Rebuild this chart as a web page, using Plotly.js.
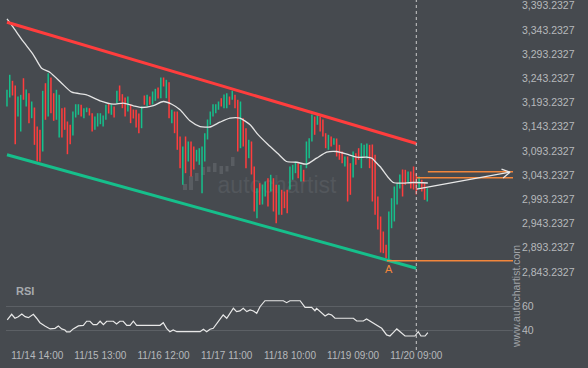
<!DOCTYPE html>
<html><head><meta charset="utf-8">
<script src="https://cdn.plot.ly/plotly-3.0.1.min.js"></script>
<style>html,body{margin:0;padding:0;background:#464a4f;}#chart{width:588px;height:368px;}</style>
</head><body><div id="chart"></div>
<script>
// ---- data ----
const highs = [3219.7,3250.7,3238.3,3228.6,3205.8,3209.3,3243.6,3220.3,3212.6,3195.5,
3183.1,3143.8,3137.0,3217.6,3233.3,3254.0,3245.1,3212.6,3219.7,3209.3,
3181.7,3183.1,3154.2,3147.4,3174.8,3189.9,3189.9,3188.7,3181.7,3183.1,
3181.7,3171.3,3164.5,3171.3,3171.3,3166.6,3188.7,3191.4,3189.9,3185.2,
3217.6,3228.6,3210.6,3203.8,3205.8,3189.9,3179.0,3178.4,3170.7,3185.2,
3207.9,3209.3,3205.8,3216.2,3221.7,3224.4,3245.1,3245.1,3240.3,3235.4,
3178.4,3174.8,3174.8,3123.2,3102.5,3123.2,3112.9,3112.9,3102.5,3095.7,
3099.0,3102.5,3130.0,3158.3,3174.8,3189.9,3189.9,3195.5,3202.3,3210.0,
3212.6,3205.8,3217.6,3209.3,3199.0,3195.5,3161.0,3140.3,3116.4,3112.9,
3061.2,3016.4,3026.7,3024.0,3030.2,3037.0,3044.1,3037.0,3023.4,3023.4,
3013.1,3009.6,3013.1,3061.2,3064.7,3071.5,3068.0,3064.7,3054.4,3112.9,
3119.7,3168.6,3164.5,3168.0,3164.5,3158.3,3130.0,3126.7,3123.2,3119.7,
3119.1,3106.0,3092.2,3081.9,3081.9,3068.0,3092.2,3088.7,3099.0,3109.3,
3106.0,3108.7,3106.0,3106.7,3085.4,2999.2,2957.9,2926.9,2899.4,2968.2,
2995.7,3019.9,3026.1,3044.7,3055.0,3054.4,3050.9,3050.9,3061.2,3046.7,
3040.5,3033.7,3026.7,3016.4];
const lows = [3185.2,3203.8,3207.9,3107.3,3164.5,3133.5,3199.0,3185.2,3150.7,3161.0,
3106.0,3071.5,3071.5,3092.2,3157.7,3164.5,3171.3,3155.6,3157.7,3121.1,
3121.1,3137.0,3086.6,3107.3,3125.3,3162.4,3168.0,3164.5,3161.0,3173.4,
3166.6,3133.5,3137.0,3143.8,3148.6,3143.8,3157.7,3170.7,3168.0,3162.4,
3192.0,3196.9,3181.7,3164.5,3174.8,3150.7,3160.4,3141.8,3130.0,3140.3,
3188.7,3185.2,3188.7,3189.3,3196.9,3201.7,3202.3,3226.5,3202.3,3161.0,
3150.7,3130.0,3095.7,3057.7,3023.4,3047.4,3071.5,3040.5,3055.0,3071.5,
3064.7,3006.0,3071.5,3117.0,3147.4,3164.5,3171.3,3178.4,3185.2,3181.7,
3181.7,3188.7,3199.0,3181.7,3092.2,3099.0,3102.5,3057.7,3078.4,3044.7,
2968.2,2954.4,2982.1,2982.7,2999.2,2978.6,3009.6,2968.2,2944.1,2961.4,
2961.4,2975.1,2964.7,3013.7,3033.7,3047.4,3037.0,3030.2,3030.2,3057.7,
3078.4,3112.9,3126.7,3147.4,3133.5,3123.2,3099.0,3095.7,3102.5,3106.0,
3081.9,3075.1,3068.0,3061.2,2988.9,3002.7,3038.5,3064.7,3075.1,3057.7,
3081.9,3077.7,3057.7,2988.9,2961.4,2931.1,2883.5,2882.1,2871.8,2866.4,
2933.7,2947.6,2982.7,3015.8,2999.2,3023.4,3026.7,3015.8,3013.7,3003.4,
3015.8,3009.6,2992.4,2988.9];
const dirs = ("uudduududu"+"dddududduu"+"dddduuuduu"+"dduuuuudud"+"uddduddddu"+
"duduududud"+"udddududdu"+"uuuuuuuudu"+"ududduddud"+"duduududdu"+
"ddduuududu"+"uududddudu"+"dddudduddu"+"uudddddddu"+"uuuudduddd"+"uddu").split("");

const maIdx = [0,2.3,5.9,9.6,12.6,15.7,19.9,23.6,29.0,33.9,38.7,42.3,46.0,49.0,53.3,56.9,60.0,63.0,66.6,70.3,
73.9,77.5,81.2,84.8,88.5,91.4,95.0,98.6,101.8,105.5,109.1,112.7,116.4,120.0,123.7,127.3,130.9,132.8,134.6,135.8,
138.8,140.6,143.1,147.9,153.2];
const maVals = [3366.4,3348.4,3319.5,3292.0,3264.3,3255.4,3233.3,3214.7,3209.3,3196.9,3189.9,3192.0,3186.6,3183.1,3187.2,3195.5,3189.9,3178.4,3155.6,3143.8,
3142.8,3152.7,3161.0,3161.0,3147.4,3127.0,3106.6,3088.0,3071.5,3070.0,3066.0,3078.4,3090.8,3092.2,3086.6,3080.4,3080.4,3078.4,3068.0,3061.2,
3038.5,3028.1,3026.7,3028.1,3027.1];

const rsiIdx = [0.1,1.7,2.9,4.1,5.4,6.6,7.8,9.6,10.8,12.0,13.8,15.7,17.5,18.7,19.9,21.1,21.7,22.9,24.1,26.0,
27.8,29.0,30.2,31.4,32.7,33.9,35.1,36.3,38.7,39.9,41.1,42.3,43.6,44.8,46.0,47.2,55.7,56.9,58.1,59.3,
60.5,61.8,70.3,71.5,72.7,73.9,75.1,76.9,78.7,80.0,82.4,83.6,84.8,86.0,87.3,88.5,89.7,90.9,92.1,93.9,
100.6,101.8,103.0,106.7,108.5,110.9,112.1,112.7,113.9,115.8,117.0,118.2,119.4,126.1,127.3,129.7,130.9,132.1,134.6,136.4,
138.2,139.4,140.6,141.9,143.1,144.9,148.5,149.7,150.7,152.2,153.2];
const rsiVals = [48.8,53.5,50.2,51.5,53.8,51.5,50.7,53.5,50.2,46.5,43.8,41.3,41.8,43.8,41.3,40.4,38.8,38.8,41.3,43.8,
44.3,47.7,47.7,44.8,44.8,47.7,44.8,47.7,47.7,45.4,47.7,47.7,44.3,44.3,47.7,44.3,44.3,46.5,41.8,39.0,
40.4,39.0,39.0,41.0,39.0,41.0,41.8,47.3,52.9,50.2,58.5,55.7,56.3,58.5,55.7,57.1,56.3,54.3,59.8,64.8,
64.8,63.2,64.8,64.8,59.3,59.3,56.5,58.5,55.7,52.1,53.8,52.9,50.2,50.2,47.9,47.9,49.6,47.9,44.6,41.8,
36.3,35.4,38.2,41.3,39.0,35.4,35.4,39.0,35.4,35.4,38.3];

const channelIdx = [0, 149];
const upperChannel = [3359.3, 3108.7];
const lowerChannel = [3085.4, 2851.1];
const signalIdx = 149;
const supportLevel = 2866.4, supportStart = 138.3;
const targetLevels = [3050.2, 3037.9], targetStarts = [153.2, 149.1];
const arrowFrom = [149.1, 3014.3], arrowTo = [183.1, 3049.4];
const lowPointIdx = 139.2;

const tickIdx = [11, 34, 57, 80, 103, 126, 149];
const tickLabels = ['11/14 14:00','11/15 13:00','11/16 12:00','11/17 11:00','11/18 10:00','11/19 09:00','11/20 09:00'];
const priceTicks = [2843.2327,2893.2327,2943.2327,2993.2327,3043.2327,3093.2327,3143.2327,3193.2327,3243.2327,3293.2327,3343.2327,3393.2327];
const rsiTicks = [40, 60];

// ---- layout geometry ----
const W = 588, H = 368, L = 6, R = 75, T = 0, B = 20;
const plotW = W - L - R, plotH = H - T - B;
const xRange = [-0.36, 184.2];
const priceRange = [2826.7, 3405.2];
const rsiRange = [25.4, 77.9];
const priceDomain = [0.1954, 1], rsiDomain = [0, 0.181];
const px2x = p => (p - L) / plotW;
const py2y = p => (plotH + T - p) / plotH;

const BG = '#464a4f', RED = '#ff3d3d', GREEN = '#16bf8b', ORANGE = '#f2863c', TXT = '#b6b9bc';
const FONT = 'Arial, "Liberation Sans", sans-serif';

const idx = highs.map((_, i) => i);
function barTrace(dir, color) {
  const xs = [], base = [], len = [];
  idx.forEach(i => { if (dirs[i] === dir) { xs.push(i); base.push(lows[i]); len.push(highs[i] - lows[i]); } });
  return {type: 'bar', x: xs, y: len, base: base, width: 0.55, marker: {color: color, line: {width: 0}},
          xaxis: 'x', yaxis: 'y', hoverinfo: 'skip'};
}

// arrow head geometry (pixel based, converted through axis scales)
const pxPerIdx = plotW / (xRange[1] - xRange[0]);
const pxPerPrice = plotH * (priceDomain[1] - priceDomain[0]) / (priceRange[1] - priceRange[0]);
const sdx = (arrowTo[0] - arrowFrom[0]) * pxPerIdx, sdy = -(arrowTo[1] - arrowFrom[1]) * pxPerPrice;
const sl = Math.hypot(sdx, sdy), ux = -sdx / sl, uy = -sdy / sl, hl = 9, ang = Math.PI / 6;
function wing(s) {
  const wx = ux * Math.cos(ang) - s * uy * Math.sin(ang), wy = s * ux * Math.sin(ang) + uy * Math.cos(ang);
  return [arrowTo[0] + hl * wx / pxPerIdx, arrowTo[1] - hl * wy / pxPerPrice];
}
const w1 = wing(1), w2 = wing(-1);

const traces = [
  barTrace('u', GREEN),
  barTrace('d', RED),
  {type: 'scatter', mode: 'lines', x: maIdx, y: maVals, line: {color: '#e4e4e4', width: 1.3, shape: 'spline', smoothing: 0.6}, hoverinfo: 'skip'},
  {type: 'scatter', mode: 'lines', x: channelIdx, y: upperChannel, line: {color: RED, width: 3}, hoverinfo: 'skip'},
  {type: 'scatter', mode: 'lines', x: channelIdx, y: lowerChannel, line: {color: GREEN, width: 3}, hoverinfo: 'skip'},
  {type: 'scatter', mode: 'lines', x: [supportStart, xRange[1]], y: [supportLevel, supportLevel], line: {color: ORANGE, width: 1.5}, hoverinfo: 'skip'},
  {type: 'scatter', mode: 'lines', x: [targetStarts[0], xRange[1]], y: [targetLevels[0], targetLevels[0]], line: {color: ORANGE, width: 1.5}, hoverinfo: 'skip'},
  {type: 'scatter', mode: 'lines', x: [targetStarts[1], xRange[1]], y: [targetLevels[1], targetLevels[1]], line: {color: ORANGE, width: 1.5}, hoverinfo: 'skip'},
  {type: 'scatter', mode: 'lines', x: [arrowFrom[0], arrowTo[0]], y: [arrowFrom[1], arrowTo[1]], line: {color: '#e8e8e8', width: 1.3}, hoverinfo: 'skip'},
  {type: 'scatter', mode: 'lines', x: [w1[0], arrowTo[0], w2[0]], y: [w1[1], arrowTo[1], w2[1]], line: {color: '#e8e8e8', width: 1.3}, hoverinfo: 'skip'},
  {type: 'scatter', mode: 'lines', x: rsiIdx, y: rsiVals, xaxis: 'x', yaxis: 'y2', line: {color: '#e8e8e8', width: 1.2}, hoverinfo: 'skip'}
];

// watermark logo (decoration)
const logo = [[183,187,184,190],[189,193,176,190],[195,198.5,173,181],[201.5,205,167,175],[207,210.5,166.5,172],
              [213,216.5,163,172],[219.5,223,166,174],[225.5,228.5,166,171.5],[231,234.5,157,166]];
const shapes = logo.map(r => ({type: 'rect', xref: 'paper', yref: 'paper', layer: 'below',
  x0: px2x(r[0]), x1: px2x(r[1]), y0: py2y(r[3]), y1: py2y(r[2]), fillcolor: '#595d62', line: {width: 0}}));
shapes.push({type: 'rect', xref: 'paper', yref: 'paper', layer: 'below',
  x0: px2x(214), x1: px2x(340), y0: py2y(196), y1: py2y(170), line: {width: 0}, fillcolor: 'rgba(0,0,0,0)',
  label: {text: 'autochartist', textposition: 'middle center', font: {family: FONT, size: 23, color: '#53575c'}}});
shapes.push({type: 'line', xref: 'x', yref: 'paper', x0: signalIdx, x1: signalIdx, y0: py2y(350), y1: 1,
  line: {color: '#c9c9c9', width: 1, dash: '3px,3px'}});

const layout = {
  width: W, height: H, margin: {l: L, r: R, t: T, b: B, pad: 0},
  paper_bgcolor: BG, plot_bgcolor: BG, showlegend: false, barmode: 'overlay',
  font: {family: FONT, color: TXT, size: 10},
  xaxis: {range: xRange, anchor: 'y2', tickvals: tickIdx, ticktext: tickLabels, ticks: '', showgrid: false,
          zeroline: false, showline: false, tickfont: {size: 10, color: TXT}, fixedrange: true},
  yaxis: {domain: priceDomain, range: priceRange, side: 'right', anchor: 'x', tickvals: priceTicks, tickformat: ',.4f',
          ticks: '', showgrid: false, zeroline: false, showline: false, ticklabelstandoff: 8, ticklabeloverflow: 'allow',
          tickfont: {size: 10.5, color: TXT}, fixedrange: true},
  yaxis2: {domain: rsiDomain, range: rsiRange, side: 'right', anchor: 'x', tickvals: rsiTicks, ticks: '',
           showgrid: true, gridcolor: '#5c6065', gridwidth: 1, zeroline: false, showline: false, ticklabelstandoff: 8,
           ticklabeloverflow: 'allow', tickfont: {size: 10.5, color: TXT}, fixedrange: true},
  shapes: shapes,
  annotations: [
    {x: lowPointIdx, y: supportLevel, xref: 'x', yref: 'y', text: 'A', showarrow: false, yanchor: 'top', xanchor: 'center',
     font: {family: FONT, size: 11, color: ORANGE}},
    {x: px2x(14), y: py2y(291), xref: 'paper', yref: 'paper', text: '<b>RSI</b>', showarrow: false, xanchor: 'left', yanchor: 'middle',
     font: {family: FONT, size: 11, color: '#a7aaae'}},
    {x: px2x(516), y: py2y(297), xref: 'paper', yref: 'paper', text: 'www.autochartist.com', textangle: -90, showarrow: false,
     xanchor: 'center', yanchor: 'middle', font: {family: FONT, size: 10.5, color: '#a0a3a7'}}
  ]
};

Plotly.newPlot('chart', traces, layout, {displayModeBar: false, staticPlot: true});
</script>
</body></html>
